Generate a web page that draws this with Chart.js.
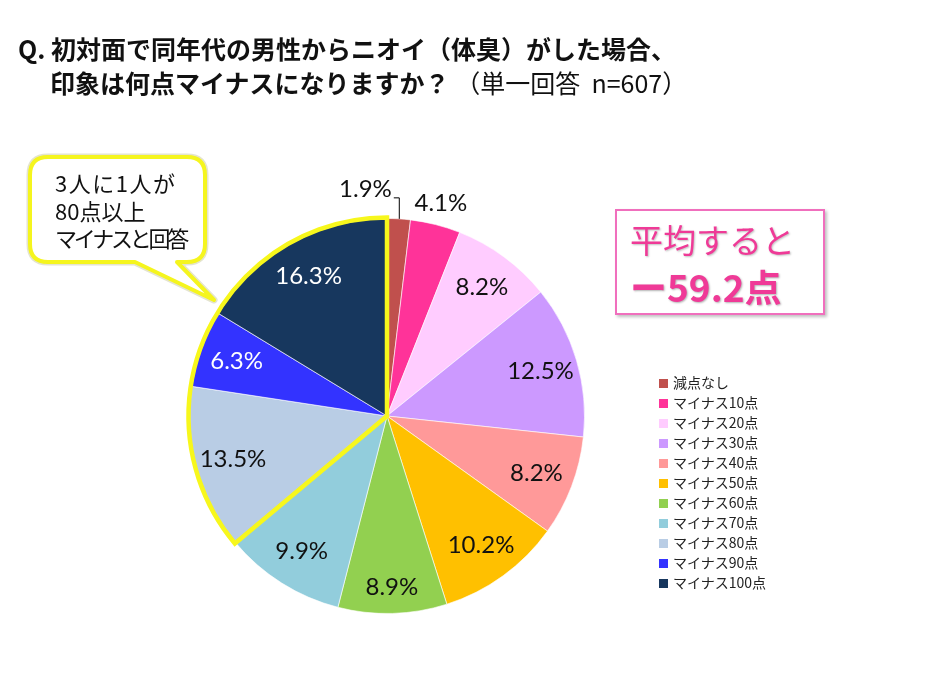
<!DOCTYPE html>
<html>
<head>
<meta charset="utf-8">
<script src="https://cdn.jsdelivr.net/npm/chart.js@4.4.0/dist/chart.umd.min.js"></script>
<style>
  html, body { margin: 0; padding: 0; background: #fff; }
  body { width: 930px; height: 674px; position: relative; overflow: hidden; font-family: "Noto Sans CJK JP", sans-serif; color: #111; }
  #wrap { position: absolute; left: 0; top: 0; width: 930px; height: 674px; }
  .title { position: absolute; font-size: 25px; font-weight: bold; white-space: nowrap; line-height: 30px; }
  .title .plain { font-weight: normal; }
  #callout { position: absolute; left: 0; top: 0; }
  #calloutText { position: absolute; left: 55px; top: 169px; font-size: 22px; line-height: 27.5px; white-space: nowrap; }
  #calloutText .wide { letter-spacing: 1.5px; }
  #calloutText .tight { letter-spacing: -3.2px; }
  #avgBox { position: absolute; left: 615px; top: 209px; width: 206px; height: 102px; border: 2px solid #f06fbd; box-shadow: 2px 2px 3px rgba(0,0,0,0.25); color: #ef3a97; }
  #avgBox .l1 { position: absolute; left: 13px; top: 4px; font-size: 33px; font-weight: normal; white-space: nowrap; text-shadow: 1px 1px 2px rgba(0,0,0,0.25); }
  #avgBox .l2 { position: absolute; left: 13px; top: 48px; font-size: 37px; font-weight: bold; white-space: nowrap; text-shadow: 1px 1px 2px rgba(0,0,0,0.3); }
  #legend { position: absolute; left: 659px; top: 372px; font-size: 14px; }
  #legend div { height: 20px; line-height: 20px; white-space: nowrap; color: #222; }
  #legend span { display: inline-block; width: 9px; height: 9px; margin-right: 5px; vertical-align: 0px; }
</style>
</head>
<body>
<div id="wrap"><canvas id="pieChart" width="930" height="674"></canvas></div>

<svg id="callout" width="260" height="320">
  <path d="M 48 157 L 187 157 Q 205 157 205 175 L 205 244 Q 205 262 187 262 L 177 262 L 214 300 L 135 262 L 48 262 Q 30 262 30 244 L 30 175 Q 30 157 48 157 Z"
        fill="#fff" stroke="#c9c9a0" stroke-width="7" stroke-linejoin="round" opacity="0.5"/>
  <path d="M 48 157 L 187 157 Q 205 157 205 175 L 205 244 Q 205 262 187 262 L 177 262 L 214 300 L 135 262 L 48 262 Q 30 262 30 244 L 30 175 Q 30 157 48 157 Z"
        fill="#fff" stroke="#f5f51e" stroke-width="4" stroke-linejoin="round"/>
</svg>
<div id="calloutText"><span class="wide">3人に1人が</span><br>80点以上<br><span class="tight">マイナスと回答</span></div>

<div class="title" style="left:18px; top:33px;">Q. 初対面で同年代の男性からニオイ（体臭）がした場合、</div>
<div class="title" style="left:50px; top:67px;">印象は何点マイナスになりますか？ <span class="plain">（単一回答&nbsp;&nbsp;n=607）</span></div>

<div id="avgBox"><div class="l1">平均すると</div><div class="l2">ー59.2点</div></div>

<div id="legend"></div>

<script>
const categories = ['減点なし', 'マイナス10点', 'マイナス20点', 'マイナス30点', 'マイナス40点', 'マイナス50点',
    'マイナス60点', 'マイナス70点', 'マイナス80点', 'マイナス90点', 'マイナス100点'];
const shares = [1.9, 4.1, 8.2, 12.5, 8.2, 10.2, 8.9, 9.9, 13.5, 6.3, 16.3];
const sliceColors = ['#c0504d', '#ff3399', '#ffccff', '#cc99ff', '#ff9999', '#ffc000',
    '#92d050', '#92cddc', '#b9cde5', '#3333ff', '#17375e'];

// slices wrapped by the yellow outline (80, 90, 100 points)
const highlightFrom = 8;
const highlightTo = 10;

// html legend
const legendEl = document.getElementById('legend');
categories.forEach((name, i) => {
    const row = document.createElement('div');
    row.innerHTML = '<span style="background:' + sliceColors[i] + '"></span>' + name;
    legendEl.appendChild(row);
});

const pieLabels = {
    id: 'pieLabels',
    afterDatasetsDraw(chart) {
        const ctx = chart.ctx;
        const arcs = chart.getDatasetMeta(0).data;

        // yellow outline around the 80+ slices
        const a = arcs[highlightFrom];
        const b = arcs[highlightTo];
        ctx.save();
        ctx.beginPath();
        ctx.moveTo(a.x, a.y);
        ctx.arc(a.x, a.y, a.outerRadius + 1, a.startAngle, b.endAngle);
        ctx.closePath();
        ctx.lineWidth = 4.5;
        ctx.lineJoin = 'miter';
        ctx.strokeStyle = '#f7f71c';
        ctx.stroke();
        ctx.restore();

        ctx.save();
        ctx.font = '24px Lato, "Noto Sans", sans-serif';
        ctx.textBaseline = 'middle';
        arcs.forEach((arc, i) => {
            const mid = (arc.startAngle + arc.endAngle) / 2;
            const R = arc.outerRadius;
            const text = shares[i].toFixed(1) + '%';
            ctx.fillStyle = (i >= 9) ? '#ffffff' : '#111111';
            if (i === 0) {
                // small slice: label outside with a leader line
                const ex = arc.x + Math.cos(mid) * R;
                const ey = arc.y + Math.sin(mid) * R;
                ctx.strokeStyle = '#000';
                ctx.lineWidth = 1;
                ctx.beginPath();
                ctx.moveTo(ex + 0.5, ey);
                ctx.lineTo(ex + 0.5, ey - 21);
                ctx.lineTo(ex - 5, ey - 21);
                ctx.stroke();
                ctx.textAlign = 'right';
                ctx.fillText(text, ex - 7, ey - 30);
                return;
            }
            let f = 0.81;
            if (i === 1) f = 1.11;
            if (i === 6) f = 0.87;
            ctx.textAlign = 'center';
            ctx.fillText(text, arc.x + Math.cos(mid) * R * f, arc.y + Math.sin(mid) * R * f);
        });
        ctx.restore();
    }
};

const pieCtx = document.getElementById('pieChart').getContext('2d');
new Chart(pieCtx, {
    type: 'pie',
    data: {
        labels: categories,
        datasets: [{
            data: shares,
            backgroundColor: sliceColors,
            borderColor: 'rgba(255,255,255,0.6)',
            borderWidth: 1
        }]
    },
    options: {
        responsive: false,
        animation: false,
        layout: { padding: { left: 189, right: 345, top: 218, bottom: 60 } },
        plugins: { legend: { display: false }, tooltip: { enabled: false } }
    },
    plugins: [pieLabels]
});
</script>
</body>
</html>
